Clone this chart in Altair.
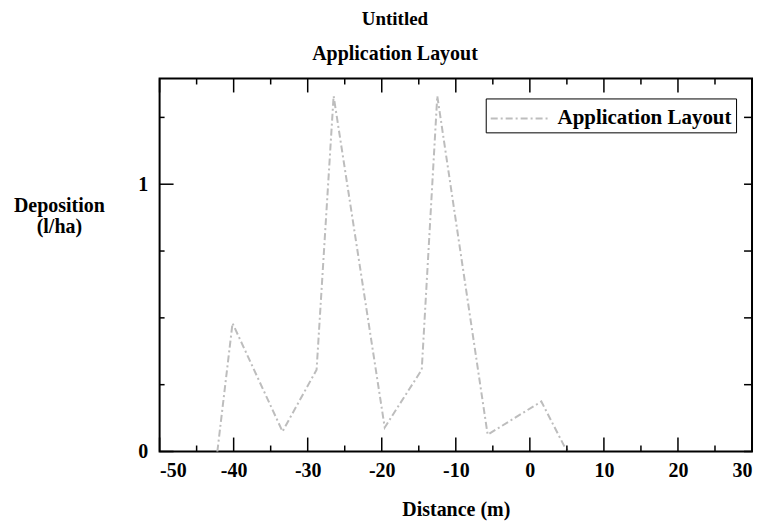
import altair as alt
import pandas as pd

# Data
distance = [-42.2, -40.15, -33.4, -28.8, -26.5, -19.6, -14.6, -12.5, -5.7, 1.55, 4.65, 5.2]
deposition = [0.0, 0.48, 0.075, 0.306, 1.33, 0.09, 0.306, 1.33, 0.063, 0.187, 0.02, 0.0]
series = ["Application Layout"] * len(distance)

x_label_values = [-50, -40, -30, -20, -10, 0, 10, 20, 30]
x_major_ticks = [-50, -40, -30, -20, -10, 0, 10, 20, 30]
x_minor_ticks = [-45, -35, -25, -15, -5, 5, 15, 25]
y_label_values = [0, 1]
y_major_ticks = [0, 1]
y_minor_ticks = [0.25, 0.5, 0.75, 1.25]

W, H = 594, 374
FONT = "Liberation Serif"
XDOM = [-50, 30]
YDOM = [0, 1.3955]

df = pd.DataFrame({"Distance": distance, "Deposition": deposition, "series": series})
xs = alt.Scale(domain=XDOM, nice=False, zero=False)
ys = alt.Scale(domain=YDOM, nice=False, zero=False)

line = alt.Chart(df).mark_line(strokeWidth=2, strokeDash=[7, 3, 2, 3]).encode(
    x=alt.X("Distance:Q", scale=xs,
            axis=alt.Axis(values=x_label_values, ticks=False, domain=False, grid=False,
                          labelFont=FONT, labelFontSize=20, labelFontWeight="bold",
                          labelColor="black", labelPadding=9,
                          labelExpr="'' + datum.value",
                          title="Distance (m)", titleFont=FONT, titleFontSize=20,
                          titleFontWeight="bold", titleColor="black",
                          titleY=58, titleBaseline="middle")),
    y=alt.Y("Deposition:Q", scale=ys,
            axis=alt.Axis(values=y_label_values, ticks=False, domain=False, grid=False,
                          labelFont=FONT, labelFontSize=20, labelFontWeight="bold",
                          labelColor="black", labelPadding=12,
                          labelExpr="'' + datum.value",
                          title=["Deposition", "(l/ha)"], titleFont=FONT, titleFontSize=20,
                          titleFontWeight="bold", titleColor="black", titleAngle=0,
                          titleAlign="center", titleX=-101, titleY=133,
                          titleBaseline="alphabetic", titleLineHeight=21)),
    color=alt.Color("series:N", scale=alt.Scale(range=["#bdbdbd"]),
                    legend=alt.Legend(title=None, orient="none", legendX=327, legendY=20,
                                      strokeColor="black", padding=4,
                                      symbolType="M-1,0H3", symbolSize=900,
                                      symbolStrokeWidth=2, symbolDash=[7, 3, 2, 3],
                                      labelFont=FONT, labelFontSize=21,
                                      labelFontWeight="bold", labelColor="black",
                                      labelLimit=400, labelOffset=36)),
)

def xticks(vals, length, top):
    d = pd.DataFrame({"v": vals})
    y0, y1 = (0, length) if top else (H, H - length)
    return alt.Chart(d).mark_rule(color="black", strokeWidth=1.5).encode(
        x=alt.X("v:Q", scale=xs, axis=None), y=alt.value(y0), y2=alt.value(y1))

def yticks(vals, length, right):
    d = pd.DataFrame({"v": vals})
    x0, x1 = (W, W - length) if right else (0, length)
    return alt.Chart(d).mark_rule(color="black", strokeWidth=1.5).encode(
        y=alt.Y("v:Q", scale=ys, axis=None), x=alt.value(x0), x2=alt.value(x1))

layers = [
    line,
    xticks(x_major_ticks, 14, False), xticks(x_major_ticks, 14, True),
    xticks(x_minor_ticks, 6, False), xticks(x_minor_ticks, 6, True),
    yticks(y_major_ticks, 14, False), yticks(y_major_ticks, 8, True),
    yticks(y_minor_ticks, 5, False), yticks(y_minor_ticks, 8, True),
]

chart = alt.layer(*layers).resolve_axis(x="independent", y="independent").properties(
    width=W, height=H,
    background="white",
    autosize=alt.AutoSizeParams(type="none"),
    padding={"left": 152, "top": 70, "right": 6, "bottom": 71},
    title=alt.TitleParams(text="Untitled", subtitle="Application Layout",
                          font=FONT, fontSize=19, fontWeight="bold", color="black",
                          subtitleFont=FONT, subtitleFontSize=20,
                          subtitleFontWeight="bold", subtitleColor="black",
                          anchor="middle", dx=-61, offset=14, subtitlePadding=15),
).configure_view(stroke="black", strokeWidth=2)

chart.save("out.html", embed_options={"renderer": "svg", "actions": False})
